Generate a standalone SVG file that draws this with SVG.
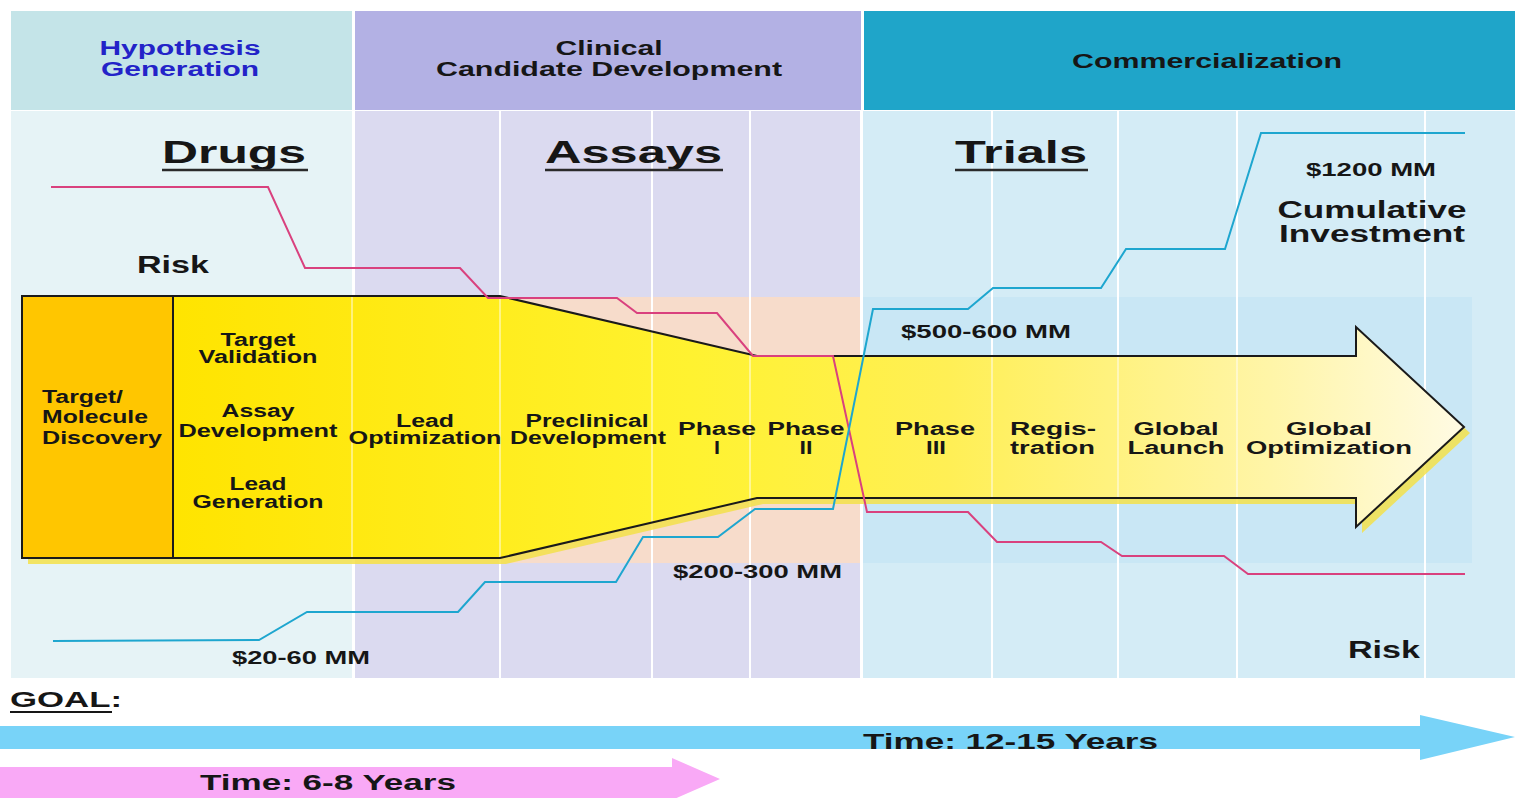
<svg xmlns="http://www.w3.org/2000/svg" width="1515" height="798" viewBox="0 0 1515 798">
<defs>
<linearGradient id="yel" gradientUnits="userSpaceOnUse" x1="173" y1="0" x2="1465" y2="0">
<stop offset="0" stop-color="#ffe400"/>
<stop offset="0.4" stop-color="#fff230"/>
<stop offset="0.6" stop-color="#ffef55"/>
<stop offset="0.85" stop-color="#fff5a8"/>
<stop offset="1" stop-color="#fffbe4"/>
</linearGradient>
</defs>
<style>
.t{font-family:"Liberation Sans",Arial,sans-serif;font-weight:bold;fill:#161616}
.hd{font-size:20px}
.big{font-size:32px}
.sm{font-size:17.5px}
.md{font-size:23px}
.mm{font-size:18.5px}
.grid{stroke:#ffffff;stroke-width:2}
.grido{stroke:#ffffff;stroke-width:2;opacity:0.45}
.risk{fill:none;stroke:#d9417e;stroke-width:2}
.inv{fill:none;stroke:#1ea6cf;stroke-width:2}
.ul{stroke:#2a2a2a;stroke-width:2.5}
</style>
<rect width="1515" height="798" fill="#ffffff"/>

<g id="background">
<rect x="11" y="11" width="341" height="99" fill="#c4e4e8"/>
<rect x="355" y="11" width="506" height="99" fill="#b3b1e4"/>
<rect x="864" y="11" width="651" height="99" fill="#1fa5c9"/>
<rect x="11" y="111" width="341" height="567" fill="#e6f3f6"/>
<rect x="355" y="111" width="505" height="567" fill="#dbdaf0"/>
<rect x="863" y="111" width="652" height="567" fill="#d4ecf6"/>
<rect x="355" y="297" width="505" height="266" fill="#f7dccb"/>
<rect x="863" y="297" width="609" height="266" fill="#c9e7f5"/>
<line class="grid" x1="500" y1="111" x2="500" y2="678"/>
<line class="grid" x1="652" y1="111" x2="652" y2="678"/>
<line class="grid" x1="750" y1="111" x2="750" y2="678"/>
<line class="grid" x1="992" y1="111" x2="992" y2="678"/>
<line class="grid" x1="1118" y1="111" x2="1118" y2="678"/>
<line class="grid" x1="1237" y1="111" x2="1237" y2="678"/>
<line class="grid" x1="1425" y1="111" x2="1425" y2="678"/>
</g>

<g id="header-hypothesis">
<text class="t hd" x="180" y="55" text-anchor="middle" textLength="161" lengthAdjust="spacingAndGlyphs" style="fill:#2323c8">Hypothesis</text>
<text class="t hd" x="180" y="76" text-anchor="middle" textLength="158" lengthAdjust="spacingAndGlyphs" style="fill:#2323c8">Generation</text>
</g>
<g id="header-clinical">
<text class="t hd" x="609" y="55" text-anchor="middle" textLength="107" lengthAdjust="spacingAndGlyphs">Clinical</text>
<text class="t hd" x="609" y="76" text-anchor="middle" textLength="346" lengthAdjust="spacingAndGlyphs">Candidate Development</text>
</g>
<g id="header-commercialization">
<text class="t hd" x="1207" y="68" text-anchor="middle" textLength="270" lengthAdjust="spacingAndGlyphs">Commercialization</text>
</g>

<g id="title-drugs">
<text class="t big" x="162" y="163" textLength="144" lengthAdjust="spacingAndGlyphs">Drugs</text>
<line class="ul" x1="162" y1="170" x2="308" y2="170"/>
</g>
<g id="title-assays">
<text class="t big" x="545" y="163" textLength="177" lengthAdjust="spacingAndGlyphs">Assays</text>
<line class="ul" x1="545" y1="170" x2="723" y2="170"/>
</g>
<g id="title-trials">
<text class="t big" x="955" y="163" textLength="132" lengthAdjust="spacingAndGlyphs">Trials</text>
<line class="ul" x1="955" y1="170" x2="1088" y2="170"/>
</g>

<g id="pipeline-arrow">
<polygon points="28,302 506,302 763,362 1362,362 1362,333 1470,433 1362,533 1362,504 763,504 506,564 28,564" fill="#f3e14a" opacity="0.85"/>
<polygon points="22,296 500,296 757,356 1356,356 1356,327 1464,427 1356,527 1356,498 757,498 500,558 22,558" fill="url(#yel)"/>
<rect x="22" y="296" width="151" height="262" fill="#ffc600"/>
<line class="grido" x1="352" y1="297" x2="352" y2="558"/>
<line class="grido" x1="500" y1="297" x2="500" y2="558"/>
<line class="grido" x1="652" y1="332" x2="652" y2="522"/>
<line class="grido" x1="750" y1="355" x2="750" y2="499"/>
<line class="grido" x1="992" y1="357" x2="992" y2="497"/>
<line class="grido" x1="1118" y1="357" x2="1118" y2="497"/>
<line class="grido" x1="1237" y1="357" x2="1237" y2="497"/>
<polygon points="22,296 500,296 757,356 1356,356 1356,327 1464,427 1356,527 1356,498 757,498 500,558 22,558" fill="none" stroke="#1a1a1a" stroke-width="2" stroke-linejoin="miter"/>
<line x1="173" y1="296" x2="173" y2="558" stroke="#1a1a1a" stroke-width="2"/>
</g>

<g id="stage-target-discovery">
<text class="t sm" x="42" y="403" textLength="81" lengthAdjust="spacingAndGlyphs">Target/</text>
<text class="t sm" x="42" y="423" textLength="106" lengthAdjust="spacingAndGlyphs">Molecule</text>
<text class="t sm" x="42" y="444" textLength="120" lengthAdjust="spacingAndGlyphs">Discovery</text>
</g>
<g id="stage-target-validation">
<text class="t sm" x="258" y="346" text-anchor="middle" textLength="75" lengthAdjust="spacingAndGlyphs">Target</text>
<text class="t sm" x="258" y="363" text-anchor="middle" textLength="119" lengthAdjust="spacingAndGlyphs">Validation</text>
</g>
<g id="stage-assay-development">
<text class="t sm" x="258" y="417" text-anchor="middle" textLength="73" lengthAdjust="spacingAndGlyphs">Assay</text>
<text class="t sm" x="258" y="437" text-anchor="middle" textLength="159" lengthAdjust="spacingAndGlyphs">Development</text>
</g>
<g id="stage-lead-generation">
<text class="t sm" x="258" y="490" text-anchor="middle" textLength="57" lengthAdjust="spacingAndGlyphs">Lead</text>
<text class="t sm" x="258" y="508" text-anchor="middle" textLength="131" lengthAdjust="spacingAndGlyphs">Generation</text>
</g>
<g id="stage-lead-optimization">
<text class="t sm" x="425" y="427" text-anchor="middle" textLength="58" lengthAdjust="spacingAndGlyphs">Lead</text>
<text class="t sm" x="425" y="444" text-anchor="middle" textLength="153" lengthAdjust="spacingAndGlyphs">Optimization</text>
</g>
<g id="stage-preclinical">
<text class="t sm" x="587" y="427" text-anchor="middle" textLength="123" lengthAdjust="spacingAndGlyphs">Preclinical</text>
<text class="t sm" x="588" y="444" text-anchor="middle" textLength="156" lengthAdjust="spacingAndGlyphs">Development</text>
</g>
<g id="stage-phase1">
<text class="t sm" x="717" y="435" text-anchor="middle" textLength="78" lengthAdjust="spacingAndGlyphs">Phase</text>
<text class="t sm" x="717" y="454" text-anchor="middle" textLength="6" lengthAdjust="spacingAndGlyphs">I</text>
</g>
<g id="stage-phase2">
<text class="t sm" x="806" y="435" text-anchor="middle" textLength="77" lengthAdjust="spacingAndGlyphs">Phase</text>
<text class="t sm" x="806" y="454" text-anchor="middle" textLength="13" lengthAdjust="spacingAndGlyphs">II</text>
</g>
<g id="stage-phase3">
<text class="t sm" x="935" y="435" text-anchor="middle" textLength="80" lengthAdjust="spacingAndGlyphs">Phase</text>
<text class="t sm" x="936" y="454" text-anchor="middle" textLength="20" lengthAdjust="spacingAndGlyphs">III</text>
</g>
<g id="stage-registration">
<text class="t sm" x="1010" y="435" textLength="86" lengthAdjust="spacingAndGlyphs">Regis-</text>
<text class="t sm" x="1010" y="454" textLength="85" lengthAdjust="spacingAndGlyphs">tration</text>
</g>
<g id="stage-global-launch">
<text class="t sm" x="1176" y="435" text-anchor="middle" textLength="85" lengthAdjust="spacingAndGlyphs">Global</text>
<text class="t sm" x="1176" y="454" text-anchor="middle" textLength="97" lengthAdjust="spacingAndGlyphs">Launch</text>
</g>
<g id="stage-global-optimization">
<text class="t sm" x="1329" y="435" text-anchor="middle" textLength="86" lengthAdjust="spacingAndGlyphs">Global</text>
<text class="t sm" x="1329" y="454" text-anchor="middle" textLength="166" lengthAdjust="spacingAndGlyphs">Optimization</text>
</g>

<g id="connectors">
<polyline class="risk" points="51,187 268,187 305,268 460,268 488,298 617,298 637,313 717,313 753,356 833,356 867,512 968,512 997,542 1101,542 1122,556 1224,556 1248,574 1465,574"/>
<polyline class="inv" points="53,641 259,640 307,612 458,612 485,582 616,582 643,537 718,537 755,509 833,509 873,309 968,309 993,288 1101,288 1126,249 1225,249 1261,133 1465,133"/>
</g>

<g id="label-risk-top">
<text class="t md" x="137" y="273" textLength="72" lengthAdjust="spacingAndGlyphs">Risk</text>
</g>
<g id="label-risk-bottom">
<text class="t md" x="1348" y="658" textLength="72" lengthAdjust="spacingAndGlyphs">Risk</text>
</g>
<g id="label-1200">
<text class="t mm" x="1306" y="176" textLength="130" lengthAdjust="spacingAndGlyphs">$1200 MM</text>
</g>
<g id="label-cumulative">
<text class="t md" x="1372" y="218" text-anchor="middle" textLength="189" lengthAdjust="spacingAndGlyphs">Cumulative</text>
<text class="t md" x="1372" y="242" text-anchor="middle" textLength="186" lengthAdjust="spacingAndGlyphs">Investment</text>
</g>
<g id="label-500">
<text class="t mm" x="901" y="338" textLength="170" lengthAdjust="spacingAndGlyphs">$500-600 MM</text>
</g>
<g id="label-200">
<text class="t mm" x="673" y="578" textLength="169" lengthAdjust="spacingAndGlyphs">$200-300 MM</text>
</g>
<g id="label-20">
<text class="t mm" x="232" y="664" textLength="138" lengthAdjust="spacingAndGlyphs">$20-60 MM</text>
</g>

<g id="goal">
<text class="t" x="10" y="707" font-size="22" textLength="112" lengthAdjust="spacingAndGlyphs">GOAL:</text>
<line x1="10" y1="712" x2="112" y2="712" stroke="#161616" stroke-width="2"/>
</g>
<g id="time-12-15">
<polygon points="0,726 1420,726 1420,715 1515,737 1420,760 1420,749 0,749" fill="#78d3f8"/>
<text class="t" x="863" y="749" font-size="22" textLength="295" lengthAdjust="spacingAndGlyphs">Time: 12-15 Years</text>
</g>
<g id="time-6-8">
<polygon points="0,767 672,767 672,758 720,779 672,800 672,798 0,798" fill="#f9a9f6"/>
<text class="t" x="200" y="790" font-size="22" textLength="256" lengthAdjust="spacingAndGlyphs">Time: 6-8 Years</text>
</g>
</svg>
